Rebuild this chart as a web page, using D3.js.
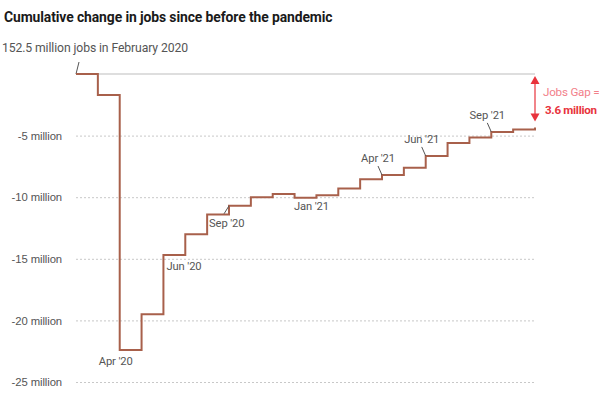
<!DOCTYPE html>
<html>
<head>
<meta charset="utf-8">
<script src="https://cdn.jsdelivr.net/npm/d3@7"></script>
<style>
  body { margin: 0; background: #fff; }
  svg { font-family: Roboto, "Liberation Sans", sans-serif; }
  .title { font-size: 13.9px; font-weight: bold; fill: #1a1a1a; letter-spacing: -0.1px; }
  .axis text { font-size: 11.3px; fill: #555; letter-spacing: -0.1px; }
  .axis .domain { display: none; }
  .axis line { stroke: #c8c8c8; stroke-dasharray: 2,2; }
  .note { font-size: 12.2px; fill: #555; letter-spacing: -0.1px; }
  .month-label { font-size: 11.2px; fill: #555; letter-spacing: -0.1px; }
  .pointer { stroke: #555; stroke-width: 1; }
</style>
</head>
<body>
<svg id="chart"></svg>
<script>
// months shown on the x axis, one step per month
const months = ['Feb 20', 'Mar 20', 'Apr 20', 'May 20', 'Jun 20', 'Jul 20', 'Aug 20', 'Sep 20',
  'Oct 20', 'Nov 20', 'Dec 20', 'Jan 21', 'Feb 21', 'Mar 21', 'Apr 21', 'May 21', 'Jun 21',
  'Jul 21', 'Aug 21', 'Sep 21', 'Oct 21', 'Nov 21'];

// cumulative change in jobs since Feb 2020, millions
const jobsChange = [0, -1.7, -22.4, -19.5, -14.7, -13.0, -11.4, -10.7,
  -10.0, -9.75, -10.05, -9.85, -9.3, -8.55, -8.2, -7.6, -6.65,
  -5.6, -5.15, -4.7, -4.5, -4.35];

const yTicks = [-5, -10, -15, -20, -25];
const yTickLabels = ['-5 million', '-10 million', '-15 million', '-20 million', '-25 million'];

// labelled months on the line
const monthLabels = [
  {month: 'Apr 20', text: "Apr '20"},
  {month: 'Jun 20', text: "Jun '20"},
  {month: 'Sep 20', text: "Sep '20"},
  {month: 'Jan 21', text: "Jan '21"},
  {month: 'Apr 21', text: "Apr '21"},
  {month: 'Jun 21', text: "Jun '21"},
  {month: 'Sep 21', text: "Sep '21"}
];

const titleText = 'Cumulative change in jobs since before the pandemic';
const baseNote = '152.5 million jobs in February 2020';
const gapLabel = 'Jobs Gap =';
const gapValue = '3.6 million';

const width = 599, height = 399;
const margin = {top: 74, right: 64, bottom: 17, left: 76};
const innerW = width - margin.left - margin.right;
const innerH = height - margin.top - margin.bottom;

const data = months.map((m, i) => ({month: m, value: jobsChange[i]}));

const svg = d3.select('#chart')
  .attr('width', width)
  .attr('height', height);

const x = d3.scalePoint()
  .domain(months)
  .range([0, innerW]);

const y = d3.scaleLinear()
  .domain([-25, 0])
  .range([innerH, 0]);

svg.append('text')
  .attr('class', 'title')
  .attr('x', 4)
  .attr('y', 22)
  .text(titleText);

const chart = svg.append('g')
  .attr('transform', `translate(${margin.left},${margin.top})`);

// dotted gridlines with the labels on the left
const yAxis = d3.axisLeft(y)
  .tickValues(yTicks)
  .tickSize(-innerW)
  .tickPadding(14)
  .tickFormat((d, i) => yTickLabels[i]);

chart.append('g')
  .attr('class', 'axis y-axis')
  .call(yAxis);

// February 2020 reference line
chart.append('line')
  .attr('x1', 0)
  .attr('x2', innerW)
  .attr('y1', y(0))
  .attr('y2', y(0))
  .attr('stroke', '#bdbdbd')
  .attr('stroke-width', 1.2);

chart.append('line')
  .attr('class', 'pointer')
  .attr('x1', x('Feb 20'))
  .attr('y1', y(0))
  .attr('x2', x('Feb 20') + 3)
  .attr('y2', y(0) - 12);

svg.append('text')
  .attr('class', 'note')
  .attr('x', 2)
  .attr('y', 52)
  .text(baseNote);

// the step line
const line = d3.line()
  .x(d => x(d.month))
  .y(d => y(d.value))
  .curve(d3.curveStepAfter);

chart.append('path')
  .datum(data)
  .attr('fill', 'none')
  .attr('stroke', '#a8604b')
  .attr('stroke-width', 2)
  .attr('d', line);

// month annotations
const valueOf = m => jobsChange[months.indexOf(m)];

monthLabels.forEach(l => {
  const px = x(l.month), py = y(valueOf(l.month));
  if (l.month === 'Apr 20') {
    chart.append('text').attr('class', 'month-label')
      .attr('x', px - 4).attr('y', py + 15)
      .attr('text-anchor', 'middle').text(l.text);
  } else if (l.month === 'Jun 20') {
    chart.append('text').attr('class', 'month-label')
      .attr('x', px + 3).attr('y', py + 15)
      .text(l.text);
  } else if (l.month === 'Jan 21') {
    chart.append('text').attr('class', 'month-label')
      .attr('x', px - 5).attr('y', py + 15)
      .attr('text-anchor', 'middle').text(l.text);
  } else if (l.month === 'Sep 20') {
    chart.append('line').attr('class', 'pointer')
      .attr('x1', px).attr('y1', py)
      .attr('x2', px - 5).attr('y2', py + 8);
    chart.append('text').attr('class', 'month-label')
      .attr('x', px - 20).attr('y', py + 21)
      .text(l.text);
  } else {
    // labels above, with a short slanted pointer
    chart.append('line').attr('class', 'pointer')
      .attr('x1', px).attr('y1', py)
      .attr('x2', px - 4).attr('y2', py - 9);
    chart.append('text').attr('class', 'month-label')
      .attr('x', px - 4).attr('y', py - 13)
      .attr('text-anchor', 'middle').text(l.text);
  }
});

// jobs gap arrow
const last = data[data.length - 1];
const gx = x(last.month);
const red = '#e8333c';
const yTop = y(0) + 2, yBot = y(last.value) - 6;

chart.append('line')
  .attr('x1', gx).attr('x2', gx)
  .attr('y1', yTop + 6).attr('y2', yBot - 6)
  .attr('stroke', red)
  .attr('stroke-width', 1.2);

chart.append('path')
  .attr('d', `M${gx},${yTop} L${gx - 4.5},${yTop + 8} L${gx + 4.5},${yTop + 8} Z`)
  .attr('fill', red);

chart.append('path')
  .attr('d', `M${gx},${yBot} L${gx - 4.5},${yBot - 8} L${gx + 4.5},${yBot - 8} Z`)
  .attr('fill', red);

chart.append('text')
  .attr('x', gx + 8)
  .attr('y', 22)
  .attr('fill', '#f2808a')
  .style('font-size', '11.6px')
  .style('letter-spacing', '-0.2px')
  .text(gapLabel);

chart.append('text')
  .attr('x', gx + 10)
  .attr('y', 40)
  .attr('fill', red)
  .style('font-size', '11.6px')
  .style('font-weight', 'bold')
  .style('letter-spacing', '-0.3px')
  .text(gapValue);
</script>
</body>
</html>
